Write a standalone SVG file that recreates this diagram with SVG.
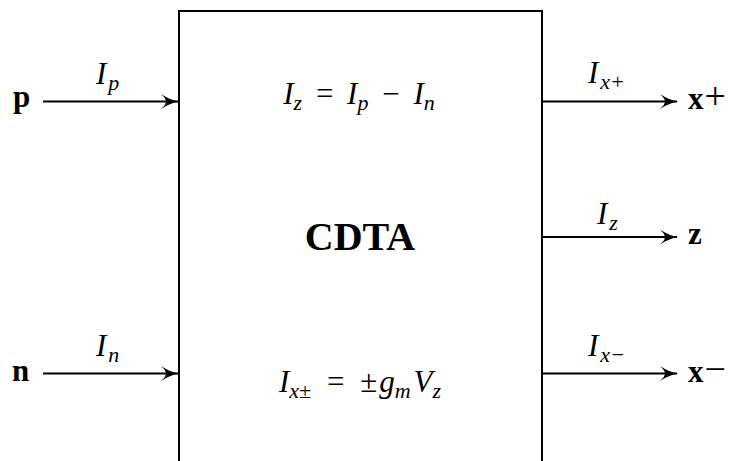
<svg xmlns="http://www.w3.org/2000/svg" width="733" height="461" viewBox="0 0 733 461">
<style>
.ln{stroke:#000;stroke-width:2;fill:none}
.t{font-family:"Liberation Serif","DejaVu Serif",serif;font-size:31px;fill:#000}
.i{font-style:italic}
.b{font-weight:bold}
.s{font-size:22px}
.big{font-size:40px}
.op{font-size:38px}
</style>
<defs>
<marker id="ah" markerWidth="20" markerHeight="18" refX="17" refY="8" orient="auto" markerUnits="userSpaceOnUse">
<path d="M0,0.5 C6,4.5 12,7 18,8 C12,9 6,11.5 0,15.5 C3.5,12.5 5,10 5,8 C5,6 3.5,3.5 0,0.5 Z" fill="#000"/>
</marker>
</defs>
<g id="cdta">
<rect x="179" y="11" width="363" height="460" class="ln" stroke-width="2.5"/>
<text x="360" y="250" class="t b big" text-anchor="middle">CDTA</text>
<text x="359" y="104" class="t" text-anchor="middle"><tspan class="i">I</tspan><tspan class="i s" dy="6">z</tspan><tspan dy="-6" dx="6"> = </tspan><tspan class="i" dx="6">I</tspan><tspan class="i s" dy="6">p</tspan><tspan dy="-6" dx="6"> − </tspan><tspan class="i" dx="6">I</tspan><tspan class="i s" dy="6">n</tspan></text>
<text x="360" y="392" class="t" text-anchor="middle"><tspan class="i">I</tspan><tspan class="i s" dy="6">x±</tspan><tspan dy="-6" dx="8"> = </tspan><tspan dx="8">±</tspan><tspan class="i" dx="2">g</tspan><tspan class="i s" dy="6">m</tspan><tspan class="i" dy="-6" dx="3">V</tspan><tspan class="i s" dy="6">z</tspan></text>
</g>
<g id="p"><text x="13" y="107" class="t b">p</text></g>
<g id="n"><text x="12" y="381" class="t b">n</text></g>
<g id="xplus"><text x="688" y="109" class="t"><tspan class="b">x</tspan><tspan class="op" dx="1">+</tspan></text></g>
<g id="z"><text x="688" y="244" class="t b">z</text></g>
<g id="xminus"><text x="688" y="382" class="t"><tspan class="b">x</tspan><tspan class="op" dx="1">−</tspan></text></g>
<g id="connectors">
<line x1="43" y1="101.5" x2="178" y2="101.5" class="ln" marker-end="url(#ah)"/>
<line x1="43" y1="373.5" x2="178" y2="373.5" class="ln" marker-end="url(#ah)"/>
<line x1="542" y1="101.5" x2="677" y2="101.5" class="ln" marker-end="url(#ah)"/>
<line x1="542" y1="237" x2="677" y2="237" class="ln" marker-end="url(#ah)"/>
<line x1="542" y1="373.5" x2="677" y2="373.5" class="ln" marker-end="url(#ah)"/>
<text x="96" y="84" class="t"><tspan class="i">I</tspan><tspan class="i s" dy="6" dx="2">p</tspan></text>
<text x="96" y="356" class="t"><tspan class="i">I</tspan><tspan class="i s" dy="6" dx="2">n</tspan></text>
<text x="588" y="83" class="t"><tspan class="i">I</tspan><tspan class="i s" dy="6" dx="2">x+</tspan></text>
<text x="597" y="224" class="t"><tspan class="i">I</tspan><tspan class="i s" dy="6" dx="2">z</tspan></text>
<text x="588" y="356" class="t"><tspan class="i">I</tspan><tspan class="i s" dy="6" dx="2">x−</tspan></text>
</g>
</svg>
